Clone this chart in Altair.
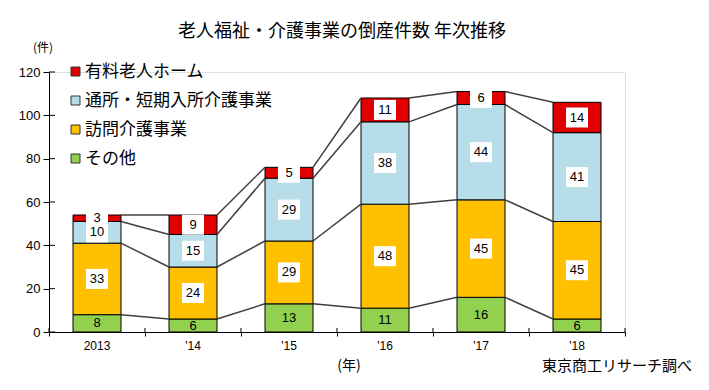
import altair as alt
import pandas as pd

# ---- data ----
years = ["2013", "'14", "'15", "'16", "'17", "'18"]
series = ["その他", "訪問介護事業", "通所・短期入所介護事業", "有料老人ホーム"]
sonota = [8, 6, 13, 11, 16, 6]
houmon = [33, 24, 29, 48, 45, 45]
tsusho = [10, 15, 29, 38, 44, 41]
yuryo = [3, 9, 5, 11, 6, 14]
colors = ["#92d050", "#ffc000", "#b7dee8", "#e00000"]
y_ticks = [0, 20, 40, 60, 80, 100, 120]

title_text = "老人福祉・介護事業の倒産件数 年次推移"
unit_y = "(件)"
unit_x = "(年)"
source_text = "東京商工リサーチ調べ"

JP = "Noto Sans CJK JP"
NUM = "Liberation Sans"
W, H = 576, 260

values = [sonota, houmon, tsusho, yuryo]

# stacked segments
rows = []
for i, yr in enumerate(years):
    cum = 0
    for s, vals in zip(series, values):
        v = vals[i]
        rows.append({"year": yr, "pos": i + 0.5, "left": i + 0.25, "right": i + 0.75,
                     "series": s, "value": v, "start": cum, "end": cum + v,
                     "mid": cum + v / 2, "boxed": s != "その他"})
        cum += v
seg = pd.DataFrame(rows)

# connector lines between stacked levels
lines = []
for k in range(len(series)):
    for i in range(len(years) - 1):
        a = sum(values[j][i] for j in range(k + 1))
        b = sum(values[j][i + 1] for j in range(k + 1))
        lines.append({"x": i + 0.75, "x2": i + 1.25, "y": a, "y2": b})
conn = pd.DataFrame(lines)

xs = alt.Scale(domain=[0, len(years)], nice=False, zero=False)
ys = alt.Scale(domain=[0, 120], nice=False)

color_scale = alt.Scale(domain=list(reversed(series)), range=list(reversed(colors)))

bars = alt.Chart(seg).mark_rect(stroke="#000000", strokeWidth=1).encode(
    x=alt.X("left:Q", scale=xs,
            axis=alt.Axis(values=list(range(len(years) + 1)), labels=False, title=None,
                          grid=False, domainColor="#000000", tickColor="#000000",
                          tickSize=4, domainWidth=1)),
    x2="right:Q",
    y=alt.Y("start:Q", scale=ys,
            axis=alt.Axis(values=y_ticks, title=None, grid=False, domainColor="#000000",
                          tickColor="#000000", tickSize=6, labelFontSize=13,
                          labelFont=NUM, labelColor="#000000", labelPadding=3)),
    y2="end:Q",
    color=alt.Color("series:N", scale=color_scale,
                    legend=alt.Legend(title=None, orient="none", legendX=18, legendY=-9,
                                      padding=0, symbolType="square", symbolSize=81,
                                      symbolStrokeColor="#333333", symbolStrokeWidth=1,
                                      labelFont=JP, labelFontSize=17, labelColor="#000000",
                                      rowPadding=11, labelLimit=400, labelOffset=1)),
)

connectors = alt.Chart(conn).mark_rule(color="#404040", strokeWidth=1.5).encode(
    x=alt.X("x:Q", scale=xs), x2="x2:Q",
    y=alt.Y("y:Q", scale=ys), y2="y2:Q",
)

box_shape = "M -1.1 -1 L 1.1 -1 L 1.1 1 L -1.1 1 Z"
boxes = alt.Chart(seg).transform_filter("datum.boxed").mark_point(
    shape=box_shape, filled=True, color="#ffffff", opacity=1, size=400, strokeWidth=0
).encode(
    x=alt.X("pos:Q", scale=xs),
    y=alt.Y("mid:Q", scale=ys),
)

labels = alt.Chart(seg).mark_text(font=NUM, fontSize=13, color="#000000").encode(
    x=alt.X("pos:Q", scale=xs),
    y=alt.Y("mid:Q", scale=ys),
    text="value:Q",
)

ydf = pd.DataFrame({"year": years, "pos": [i + 0.5 for i in range(len(years))]})
year_labels = alt.Chart(ydf).mark_text(font=NUM, fontSize=12, color="#000000").encode(
    x=alt.X("pos:Q", scale=xs),
    y=alt.value(H + 14),
    text="year:N",
)

bdf = pd.DataFrame({"b": list(range(len(years) + 1))})
x_in_ticks = alt.Chart(bdf).mark_rule(color="#000000", strokeWidth=1).encode(
    x=alt.X("b:Q", scale=xs), y=alt.value(H), y2=alt.value(H - 4),
)

tdf = pd.DataFrame({"t": y_ticks})
y_in_ticks = alt.Chart(tdf).mark_rule(color="#000000", strokeWidth=1).encode(
    y=alt.Y("t:Q", scale=ys), x=alt.value(0), x2=alt.value(6),
)

def note(text, x, y, size, align="center", font=JP):
    return alt.Chart(pd.DataFrame({"t": [text]})).mark_text(
        font=font, fontSize=size, align=align, baseline="middle", color="#000000"
    ).encode(text="t:N", x=alt.value(x), y=alt.value(y))

title = note(title_text, 293, -40, 18)
uy = note(unit_y, -6, -24, 12)
ux = note(unit_x, 300, 294, 14)
src = note(source_text, 643, 294, 15, align="right")

chart = alt.layer(
    bars, connectors, boxes, labels, year_labels, x_in_ticks, y_in_ticks,
    title, uy, ux, src
).properties(
    width=W, height=H,
    autosize=alt.AutoSizeParams(type="none"),
    padding={"left": 41, "top": 64, "right": 70, "bottom": 45},
).configure_view(stroke=None).configure(background="#ffffff")

chart.save("out.html", embed_options={"renderer": "svg", "actions": False})
